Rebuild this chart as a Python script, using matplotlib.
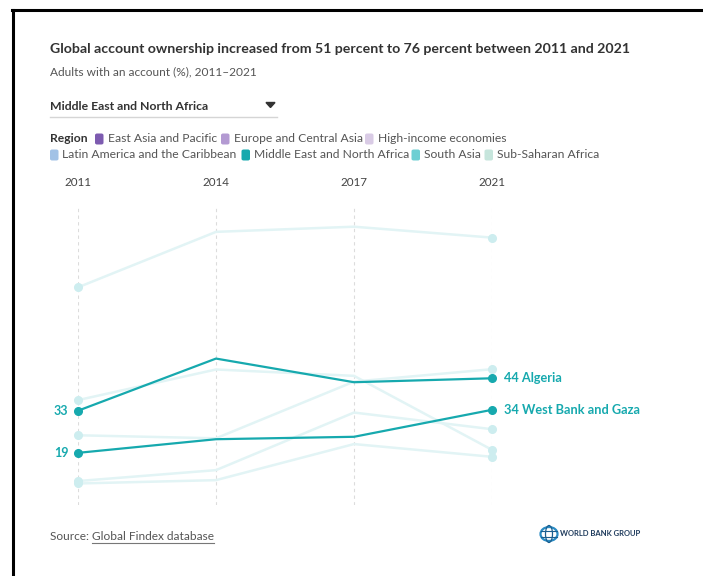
import matplotlib.pyplot as plt
import matplotlib.transforms as mtransforms
from matplotlib.patches import FancyBboxPatch, Circle, Ellipse, Polygon
from matplotlib.lines import Line2D

plt.rcParams['font.family'] = ['Lato', 'DejaVu Sans']

# data
years = ['2011', '2014', '2017', '2021']
algeria = [33.3, 50.5, 42.7, 44.0]
west_bank_gaza = [19.4, 23.9, 24.7, 33.6]
iran = [74.0, 92.3, 94.0, 90.4]
lebanon = [36.8, 46.9, 44.8, 20.4]
jordan = [25.2, 24.2, 42.9, 47.0]
egypt = [10.1, 13.7, 32.7, 27.2]
iraq = [9.3, 10.4, 22.3, 18.1]

background_series = [iran, lebanon, jordan, egypt, iraq]
highlight_series = [algeria, west_bank_gaza]
highlight_names = ['Algeria', 'West Bank and Gaza']

regions = ['East Asia and Pacific', 'Europe and Central Asia', 'High-income economies',
           'Latin America and the Caribbean', 'Middle East and North Africa',
           'South Asia', 'Sub-Saharan Africa']
region_colors = ['#7d5bb0', '#b39ad2', '#d9cbe5', '#a2c2e6', '#16a9ae', '#6ecfd3', '#c6e5dc']

TEAL = '#16a9ae'
W, H = 703, 576


def fx(px):
    return px / W


def fy(py):
    return 1 - py / H


fig = plt.figure(figsize=(W / 100, H / 100), dpi=100)
fig.patch.set_facecolor('white')

# screenshot frame
fig.add_artist(Line2D([fx(12), 1], [fy(9.5), fy(9.5)], color='black', lw=2.2))
fig.add_artist(Line2D([fx(13), fx(13)], [fy(9.5), 0], color='black', lw=2.2))

fig.text(fx(50), fy(49), 'Global account ownership increased from 51 percent to 76 percent between 2011 and 2021',
         fontsize=10.15, fontweight='bold', color='#333333', va='center')
fig.text(fx(50), fy(72), 'Adults with an account (%), 2011\u20132021',
         fontsize=8.6, color='#555555', va='center')

# dropdown
fig.text(fx(50), fy(106), 'Middle East and North Africa', fontsize=8.8, fontweight='bold',
         color='#333333', va='center')
fig.add_artist(Polygon([[fx(266), fy(102.5)], [fx(275), fy(102.5)], [fx(270.5), fy(107.5)]],
                       closed=True, color='#333333'))
fig.add_artist(Line2D([fx(50), fx(277)], [fy(117), fy(117)], color='#d5d5d5', lw=1))

# legend
fig.text(fx(50), fy(139), 'Region', fontsize=8.7, fontweight='bold', color='#333333', va='center')
legend_pos = [(95, 139), (221, 139), (365, 139), (50, 155), (241.5, 155), (411.5, 155), (484.5, 155)]
for name, col, (lx, ly) in zip(regions, region_colors, legend_pos):
    fig.add_artist(FancyBboxPatch((fx(lx), fy(ly + 5.5)), fx(8.5), 11 / H,
                                  boxstyle='round,pad=0,rounding_size=0.003',
                                  facecolor=col, edgecolor='none'))
    fig.text(fx(lx + 12.5), fy(ly), name, fontsize=8.7, color='#555555', va='center')

# chart area
ax = fig.add_axes([fx(78), fy(505), fx(492) - fx(78), fy(207) - fy(505)])
ax.set_xlim(0, 3)
ax.set_ylim(2.2, 100.5)
ax.axis('off')
x = list(range(len(years)))
for i in x:
    ax.axvline(i, color='#dcdcdc', lw=0.8, ls=(0, (3, 3)), zorder=0)

for s in background_series:
    ax.plot(x, s, color='#e2f4f5', lw=1.8, zorder=1, solid_capstyle='round')
    ax.plot([x[0], x[-1]], [s[0], s[-1]], 'o', color='#cdedef', ms=5.5, zorder=2, clip_on=False)

for s, name in zip(highlight_series, highlight_names):
    ax.plot(x, s, color=TEAL, lw=1.6, zorder=3)
    ax.plot([x[0], x[-1]], [s[0], s[-1]], 'o', color=TEAL, ms=5.5, zorder=4, clip_on=False)
    ax.annotate(f'{s[0]:.0f}', (x[0], s[0]), xytext=(-7, 0), textcoords='offset points',
                ha='right', va='center', fontsize=9, fontweight='bold', color=TEAL)
    ax.annotate(f'{s[-1]:.0f} {name}', (x[-1], s[-1]), xytext=(8.5, 0), textcoords='offset points',
                ha='left', va='center', fontsize=9.2, fontweight='bold', color=TEAL)

trans = mtransforms.blended_transform_factory(ax.transData, fig.transFigure)
for i, yr in zip(x, years):
    ax.text(i, fy(182), yr, transform=trans, ha='center', va='center', fontsize=8.4, color='#444444')

# source and logo
t1 = fig.text(fx(50), fy(537), 'Source: ', fontsize=8.6, color='#555555', va='center')
fig.canvas.draw()
r = fig.canvas.get_renderer()
bb = t1.get_window_extent(r)
t2 = fig.text(bb.x1 / W, fy(537), 'Global Findex database', fontsize=8.6, color='#555555', va='center')
bb2 = t2.get_window_extent(r)
fig.add_artist(Line2D([bb2.x0 / W, bb2.x1 / W], [fy(542.5), fy(542.5)], color='#777777', lw=0.8))

fig.add_artist(Circle((fx(549), fy(534)), 8.5 / W, transform=fig.transFigure, facecolor='white',
                      edgecolor='#2b8cc4', lw=1.6))
fig.add_artist(Ellipse((fx(549), fy(534)), 7 / W, 17 / H, transform=fig.transFigure, facecolor='none',
                       edgecolor='#1c5f8f', lw=0.9))
fig.add_artist(Line2D([fx(541), fx(557)], [fy(531), fy(531)], color='#1c5f8f', lw=0.8))
fig.add_artist(Line2D([fx(541), fx(557)], [fy(537), fy(537)], color='#1c5f8f', lw=0.8))
fig.text(fx(560), fy(534), 'WORLD BANK GROUP', fontsize=5.5, fontweight='bold', color='#1d3a5c', va='center')

fig.savefig('out.png', dpi=100, facecolor='white')
